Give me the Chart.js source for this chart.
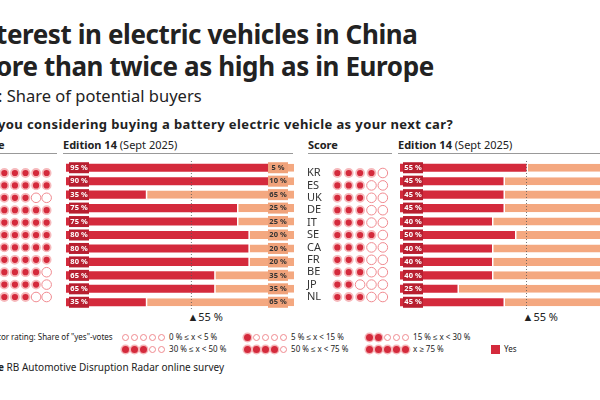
<!DOCTYPE html>
<html><head><meta charset="utf-8">
<script src="https://cdn.jsdelivr.net/npm/chart.js@4"></script>
<style>
body{margin:0;width:600px;height:400px;overflow:hidden;position:relative;background:#fff;font-family:"Noto Sans",sans-serif;color:#222}
.a{position:absolute;white-space:nowrap}
canvas{display:block}
.d{display:inline-block;width:7px;height:7px;border-radius:50%;margin-right:2px;vertical-align:middle;box-sizing:border-box}
.f{background:#d42a3c;box-shadow:0 0 0 1.5px #f5b5b8}
.e{border:1px solid #f08a90;background:#fff}
.ln{position:absolute;height:1px;background:#999}
</style></head><body>
<div class="a" style="left:-4px;top:16px;font-size:26px;font-weight:700;letter-spacing:-0.4px">terest in electric vehicles in China</div>
<div class="a" style="left:-4px;top:48px;font-size:26px;font-weight:700;letter-spacing:-0.4px">ore than twice as high as in Europe</div>
<div class="a" style="left:-2px;top:84px;font-size:16.5px">: Share of potential buyers</div>
<div class="a" style="left:-2px;top:115px;font-size:13px;font-weight:700;letter-spacing:0.4px">you considering buying a battery electric vehicle as your next car?</div>
<div class="a" style="left:-2px;top:137px;font-size:11px;font-weight:700">e</div>
<div class="a" style="left:63px;top:137px;font-size:11px"><b>Edition 14</b> (Sept 2025)</div>
<div class="a" style="left:308px;top:137px;font-size:11px;font-weight:700">Score</div>
<div class="a" style="left:398px;top:137px;font-size:11px"><b>Edition 14</b> (Sept 2025)</div>
<div class="ln" style="left:0;width:57px;top:153px"></div>
<div class="ln" style="left:63px;width:230px;top:153px"></div>
<div class="ln" style="left:308px;width:84px;top:153px"></div>
<div class="ln" style="left:398px;width:210px;top:153px"></div>
<div style="position:absolute;left:-12px;top:161px;width:75px;height:148px"><canvas id="dl"></canvas></div>
<div style="position:absolute;left:300px;top:161px;width:100px;height:148px"><canvas id="dr"></canvas></div>
<div style="position:absolute;left:66px;top:161px;width:228px;height:148px"><canvas id="bl"></canvas></div>
<div style="position:absolute;left:400px;top:161px;width:230px;height:148px"><canvas id="br"></canvas></div>
<div class="a" style="left:-2px;top:331px;font-size:8px">tor rating: Share of "yes"-votes</div>
<div class="a" style="left:122px;top:331px;font-size:8px"><span id="lg1"></span></div>
<div class="a" style="left:122px;top:343px;font-size:8px"><span id="lg2"></span></div>
<div class="a" style="left:491px;top:343px;font-size:8px"><span style="display:inline-block;width:9px;height:9px;background:#d42a3c;vertical-align:middle;margin-right:4px"></span>Yes</div>
<div class="a" style="left:-2px;top:360px;font-size:10px"><b>e</b> RB Automotive Disruption Radar online survey</div>
<script>
const countriesRight=["KR","ES","UK","DE","IT","SE","CA","FR","BE","JP","NL"];
const yesLeft=[95,90,35,75,75,80,80,80,65,65,35];
const noLeft=[5,10,65,25,25,20,20,20,35,35,65];
const scoreLeft=[5,5,3,5,5,5,5,5,4,4,3];
const yesRight=[55,45,45,45,40,50,40,40,40,25,45];
const noRight=[45,55,55,55,60,50,60,60,60,75,55];
const scoreRight=[4,3,3,3,3,4,3,3,3,2,3];
const avgLine=55;
const legendItems=[[0,"0 % ≤ x < 5 %"],[1,"5 % ≤ x < 15 %"],[2,"15 % ≤ x < 30 %"],[3,"30 % ≤ x < 50 %"],[4,"50 % ≤ x < 75 %"],[5,"x ≥ 75 %"]];
const RED="#d42a3c",DARK="#b81f30",LIGHT="#f4a880",LBOX="#f0a27a";
Chart.defaults.animation=false;
Chart.defaults.font.family="Noto Sans";

function legHTML(items){return items.map(([n,t])=>{let s="";for(let i=1;i<=5;i++)s+=`<span class="d ${i<=n?'f':'e'}"></span>`;return `<span style="display:inline-block;width:122px">${s} ${t}</span>`}).join("")}
document.getElementById("lg1").innerHTML=legHTML(legendItems.slice(0,3));
document.getElementById("lg2").innerHTML=legHTML(legendItems.slice(3));

const rowLabels={id:'rowLabels',afterDraw(ch){
  const labs=ch.options.plugins.rowLabels.labels;if(!labs)return;
  const ctx=ch.ctx,ys=ch.scales.y;ctx.save();ctx.font="11px Noto Sans";ctx.fillStyle="#333";
  ctx.textBaseline="middle";ctx.textAlign="left";
  labs.forEach((l,i)=>ctx.fillText(l,7,ys.getPixelForValue(i)));ctx.restore();}};

function dots(id,scores,labels,padL){
  const f=[],e=[];
  scores.forEach((s,r)=>{for(let c=1;c<=5;c++)(c<=s?f:e).push({x:c,y:r});});
  new Chart(document.getElementById(id),{type:'scatter',
    data:{datasets:[{data:f,pointRadius:4,backgroundColor:RED,borderColor:"#f6b9bc",borderWidth:1.8},
                    {data:e,pointRadius:4.8,backgroundColor:"#fff",borderColor:"#f08a90",borderWidth:1}]},
    options:{responsive:true,maintainAspectRatio:false,layout:{padding:{left:padL}},
      plugins:{legend:{display:false},tooltip:{enabled:false},rowLabels:{labels}},
      scales:{x:{display:false,min:0,max:6},y:{display:false,min:-0.5,max:10.5,reverse:true}}},
    plugins:[rowLabels]});
}
dots("dl",scoreLeft,null,0);dots("dr",scoreRight,countriesRight,26);

const boxPlugin={id:'boxes',afterDatasetsDraw(ch){
  const ctx=ch.ctx,xs=ch.scales.x,ys=ch.scales.y,o=ch.options.plugins.boxes;
  ctx.save();ctx.font="bold 7.5px Noto Sans";ctx.textBaseline="middle";
  ch.data.labels.forEach((l,i)=>{
    const y=ys.getPixelForValue(i);
    ctx.fillStyle=DARK;ctx.fillRect(xs.getPixelForValue(0)+3,y-5.5,20,11);
    ctx.fillStyle="#fff";ctx.textAlign="center";ctx.fillText(o.yes[i]+" %",xs.getPixelForValue(0)+13,y);
    if(o.showNo){const xr=xs.getPixelForValue(100);
      ctx.fillStyle=LBOX;ctx.fillRect(xr-26,y-5.5,20,11);ctx.fillStyle="#333";ctx.fillText(o.no[i]+" %",xr-16,y);}
  });
  const xa=xs.getPixelForValue(avgLine);
  ctx.strokeStyle="#555";ctx.setLineDash([1,2]);ctx.lineWidth=0.8;
  ctx.beginPath();ctx.moveTo(xa,0);ctx.lineTo(xa,ch.height);ctx.stroke();
  ctx.restore();}};

function bars(id,yes,no,showNo){
  new Chart(document.getElementById(id),{type:'bar',
    data:{labels:yes.map((_,i)=>i),datasets:[
      {data:yes,backgroundColor:RED,barPercentage:0.6,categoryPercentage:1},
      {data:no,backgroundColor:LIGHT,barPercentage:0.6,categoryPercentage:1,borderColor:"#fff",borderWidth:{left:1.5},borderSkipped:false}]},
    options:{indexAxis:'y',responsive:true,maintainAspectRatio:false,layout:{padding:0},
      plugins:{legend:{display:false},tooltip:{enabled:false},boxes:{yes,no,showNo}},
      scales:{x:{display:false,stacked:true,min:0,max:100},y:{display:false,stacked:true}}},
    plugins:[boxPlugin]});
}
bars("bl",yesLeft,noLeft,true);bars("br",yesRight,noRight,false);

function avgLabel(scaleLeft,width){const x=scaleLeft+width*avgLine/100;
  const d=document.createElement("div");d.className="a";d.style.cssText=`left:${x-4}px;top:309px;font-size:11px`;d.textContent="▲55 %";document.body.appendChild(d);}
avgLabel(66,228);avgLabel(400,230);
</script>
</body></html>
